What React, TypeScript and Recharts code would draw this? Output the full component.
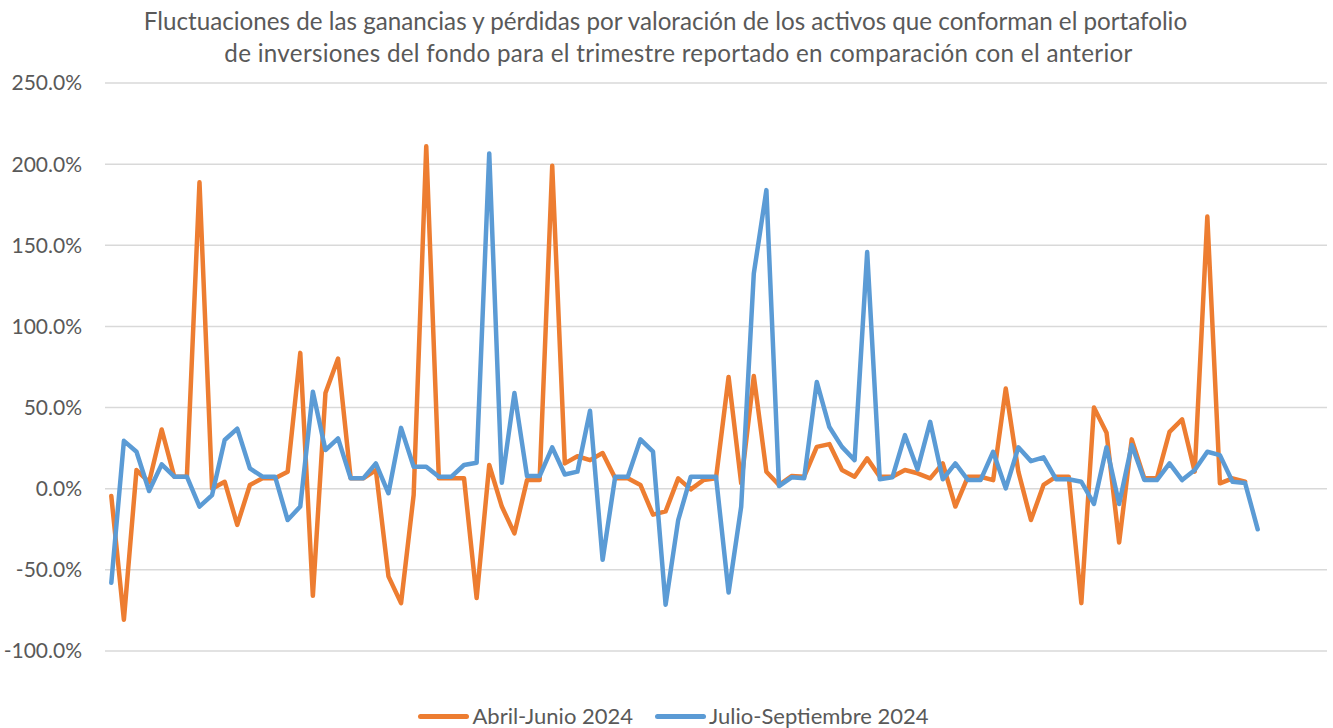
import React from "react";
import { CartesianGrid, Line, LineChart, XAxis, YAxis } from "recharts";

// posición de cada activo en el portafolio (97 categorías, las últimas vacías)
const periodos = Array.from({ length: 97 }, (_, i) => i);

const abrilJunio = [
  -4.5, -80.7, 11.5, 4, 36.5, 7.4, 7.4, 188.8, 0, 4.3, -22.3, 2.3, 6.4, 6.4, 10.5, 83.7,
  -66, 59, 80.2, 6.4, 6.4, 11.5, -54, -70.5, -3.9, 211, 6.4, 6.4, 6.4, -67.4, 14.6, -11,
  -27.5, 5.3, 5.3, 199, 15.6, 20, 17.6, 22, 6.4, 6.4, 2.3, -16, -14, 6.4, -0.4, 5.3,
  6.4, 68.9, 3.3, 69.5, 10.5, 2.3, 7.8, 7.4, 25.8, 27.5, 11.5, 7.4, 18.7, 7.4, 7.4, 11.5,
  9.5, 6.4, 15.6, -11, 7.4, 7.4, 5.3, 61.7, 10.5, -19.3, 2.3, 7.4, 7.4, -70.5, 50, 34.5,
  -33.2, 30.4, 6.4, 6.4, 35, 42.7, 10.5, 167.7, 3.3, 6.4, 4.3,
];

const julioSeptiembre = [
  -58, 29.5, 22.8, -1.4, 15, 7.4, 7.4, -11, -3.9, 30, 37, 12.5, 7.4, 7.4, -19.3, -11,
  59.7, 23.8, 31, 6.4, 6.4, 15.6, -2.8, 37.5, 13.5, 13.5, 7.4, 7.4, 14.6, 16, 206.6, 3.7,
  59, 7.8, 7.8, 25.5, 8.8, 10.5, 48, -43.8, 7.4, 7.4, 30.4, 22.8, -71.5, -19.3, 7.4, 7.4,
  7.4, -64, -11, 132.5, 184, 1.6, 7, 6.4, 65.8, 38, 25.8, 17.6, 145.8, 5.8, 7, 33,
  11.9, 41.2, 5.8, 15.6, 5.3, 5.3, 22.8, 0.2, 25.5, 17, 19.3, 5.8, 5.8, 4.3, -9.4, 25.5,
  -9.4, 26.9, 5.3, 5.3, 15.6, 5.3, 11.5, 22.8, 20.7, 4.3, 3.5, -25,
];

const yTicks = [-100, -50, 0, 50, 100, 150, 200, 250];

const titulo = [
  "Fluctuaciones de las ganancias y pérdidas por valoración de los activos que conforman el portafolio",
  "de inversiones del fondo para el trimestre reportado en comparación con el anterior",
];

const series = [
  { key: "abr", name: "Abril-Junio 2024", color: "#ED7D31" },
  { key: "jul", name: "Julio-Septiembre 2024", color: "#5B9BD5" },
];

const data = periodos.map((p, i) => ({
  idx: p,
  abr: i < abrilJunio.length ? abrilJunio[i] : null,
  jul: i < julioSeptiembre.length ? julioSeptiembre[i] : null,
}));

const textColor = "#595959";
const font = "Lato, 'Open Sans', sans-serif";

export default function App() {
  return (
    <div
      style={{
        position: "absolute",
        left: 0,
        top: 0,
        width: 1333,
        height: 728,
        background: "#fff",
        fontFamily: font,
        color: textColor,
      }}
    >
      <div style={{ position: "absolute", top: 5, left: 0, width: 1331, textAlign: "center", fontSize: 24.2, lineHeight: "32px" }}>
        {titulo[0]}
      </div>
      <div style={{ position: "absolute", top: 37, left: 13, width: 1331, textAlign: "center", fontSize: 24.2, lineHeight: "32px", letterSpacing: 0.3 }}>
        {titulo[1]}
      </div>
      <LineChart
        width={1333}
        height={728}
        data={data}
        margin={{ top: 83, right: 6, bottom: 77, left: 0 }}
      >
        <CartesianGrid vertical={false} stroke="#d9d9d9" strokeWidth={1.5} />
        <XAxis dataKey="idx" type="number" domain={[-0.5, 96.5]} hide />
        <YAxis
          width={105}
          domain={[-100, 250]}
          ticks={yTicks}
          interval={0}
          axisLine={false}
          tickLine={false}
          tickSize={0}
          tickMargin={23}
          tick={{ fontSize: 21, fill: textColor, fontFamily: font }}
          tickFormatter={(v: number) => `${v.toFixed(1)}%`}
        />
        {series.map((s) => (
          <Line
            key={s.key}
            type="linear"
            dataKey={s.key}
            name={s.name}
            stroke={s.color}
            strokeWidth={4.5}
            strokeLinejoin="round"
            strokeLinecap="round"
            dot={false}
            activeDot={false}
            isAnimationActive={false}
          />
        ))}
      </LineChart>
      <div
        style={{
          position: "absolute",
          top: 702,
          left: 0,
          width: 1333,
          display: "flex",
          justifyContent: "center",
          paddingLeft: 14,
          boxSizing: "border-box",
          fontSize: 22,
          lineHeight: "28px",
        }}
      >
        {series.map((s, i) => (
          <div key={s.key} style={{ display: "flex", alignItems: "center", marginLeft: i === 0 ? 0 : 22 }}>
            <span style={{ display: "inline-block", width: 51, height: 5, borderRadius: 3, background: s.color, marginRight: 3 }} />
            <span>{s.name}</span>
          </div>
        ))}
      </div>
    </div>
  );
}
